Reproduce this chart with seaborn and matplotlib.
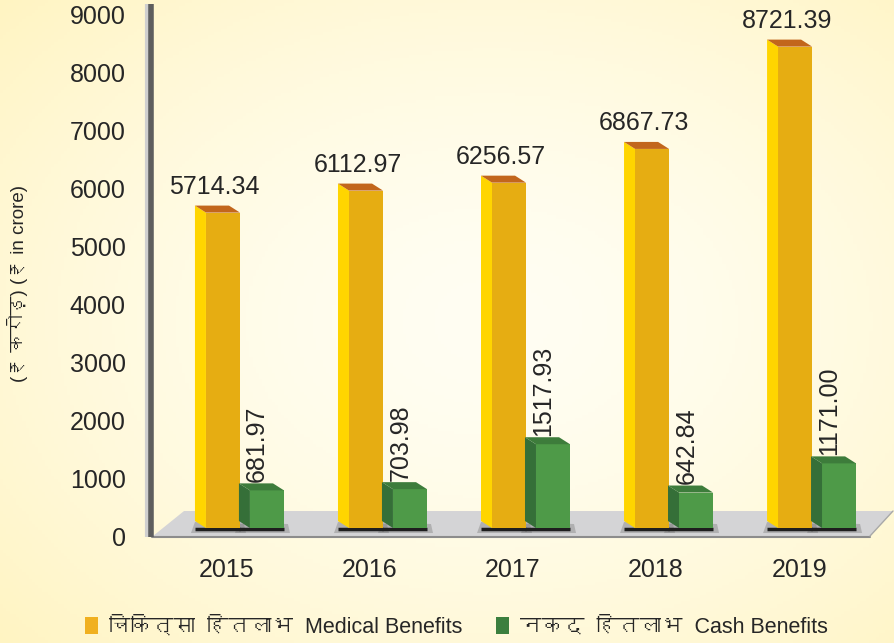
import numpy as np
import pandas as pd
import matplotlib
matplotlib.use("Agg")
import matplotlib.pyplot as plt
import seaborn as sns
from matplotlib import font_manager
from matplotlib.ft2font import FT2Font
from matplotlib.patches import Polygon, Patch
from matplotlib.transforms import ScaledTranslation
from matplotlib.colors import to_rgb

# data
years = ['2015', '2016', '2017', '2018', '2019']
medical = [5714.34, 6112.97, 6256.57, 6867.73, 8721.39]
cash = [681.97, 703.98, 1517.93, 642.84, 1171.00]
series_names = ['चिकित्सा  हितलाभ  Medical Benefits', 'नकद  हितलाभ  Cash Benefits']
ylabel_text = '(₹ करोड़) (₹ in crore)'
yticks = list(range(0, 9001, 1000))

# look for any installed font that has Devanagari glyphs
deva_font = None
for f in font_manager.fontManager.ttflist:
    try:
        if 0x0915 in FT2Font(f.fname).get_charmap():
            deva_font = f.name
            break
    except Exception:
        pass

sns.set_style("white")
families = ['Liberation Sans']
if deva_font:
    families.append(deva_font)
families.append('DejaVu Sans')
plt.rcParams['font.family'] = families

df = pd.DataFrame({
    'year': years * 2,
    'value': medical + cash,
    'type': ['medical'] * len(years) + ['cash'] * len(years),
})

front = ['#E6AD12', '#4E9A48']
side = ['#FFD500', '#356F38']
top = ['#C2661C', '#3D7C3B']
legend_cols = ['#F0B020', '#3B7F3E']

W, H = 895, 643
fig = plt.figure(figsize=(W / 100, H / 100), dpi=100)

# background gradient
bg = fig.add_axes([0, 0, 1, 1], zorder=-5)
yy, xx = np.mgrid[0:1:200j, 0:1:280j]
r = np.clip(np.sqrt(((xx - 0.55) / 0.8) ** 2 + ((yy - 0.5) / 0.8) ** 2), 0, 1)
c0 = np.array(to_rgb('#FFFEF3'))
c1 = np.array(to_rgb('#FFF3BC'))
img = c0 + (c1 - c0) * (r[..., None] ** 1.6)
bg.imshow(img, aspect='auto', extent=[0, 1, 0, 1])
bg.axis('off')

rect = [152 / W, 1 - 540 / H, 728 / W, 535 / H]

# back wall axis carrying the value ticks (3D perspective: slightly larger scale)
wall = fig.add_axes(rect, label='wall')
wall.set_facecolor('none')
wall.set_ylim(-52, 9172)
wall.set_yticks(yticks)
wall.set_xticks([])
wall.tick_params(axis='y', length=0, labelsize=18, pad=19)
for s in wall.spines.values():
    s.set_visible(False)

ax = fig.add_axes(rect)
ax.set_facecolor('none')

sns.barplot(data=df, x='year', y='value', hue='type', palette=front,
            width=0.615, gap=0.226, saturation=1, linewidth=0, legend=False,
            ax=ax, zorder=3)

ax.set_xlim(-0.65, 4.44)
ax.set_ylim(-217, 9475)
ax.set_yticks([])
ax.tick_params(axis='x', length=0, labelsize=18, pad=13)
ax.set_xlabel('')
ax.set_ylabel('')
for s in ax.spines.values():
    s.set_visible(False)
for lbl in ax.get_xticklabels():
    lbl.set_transform(lbl.get_transform() + ScaledTranslation(-0.18, 0, fig.dpi_scale_trans))

# pixel -> data unit conversion
p0 = ax.transData.transform((0, 0))
p1 = ax.transData.transform((1, 1000))
ux = 1 / (p1[0] - p0[0])
uy = 1000 / (p1[1] - p0[1])
dx, dy = -11 * ux, 7 * uy

# floor
xl = ax.get_xlim()
floor = Polygon([(xl[0] + 1 * ux, -8 * uy), (xl[0] + 718 * ux, -8 * uy),
                 (xl[0] + 741 * ux, 17 * uy), (xl[0] + 32 * ux, 17 * uy)],
                closed=True, facecolor='#D4D4D6', edgecolor='none', zorder=1, clip_on=False)
ax.add_patch(floor)
ax.plot([xl[0], xl[0] + 718 * ux], [-9 * uy, -9 * uy], color='#8C8C8C', lw=1.5,
        zorder=1.5, clip_on=False)
ax.plot([xl[0] + 718 * ux, xl[0] + 741 * ux], [-8 * uy, 17 * uy], color='#A8A8A8', lw=1,
        zorder=1.5, clip_on=False)

# left wall edge
ax.plot([xl[0] - 5 * ux] * 2, [-9 * uy, 524 * uy], color='#CFCFCF', lw=3,
        zorder=2, clip_on=False, solid_capstyle='butt')
ax.plot([xl[0] - 1 * ux] * 2, [-9 * uy, 524 * uy], color='#5E5E5E', lw=4,
        zorder=2, clip_on=False, solid_capstyle='butt')

# 3D faces, shadows and labels
for k, cont in enumerate(ax.containers):
    for bar in cont:
        x0 = bar.get_x()
        w = bar.get_width()
        h = bar.get_height()
        x1 = x0 + w
        shadow = Polygon([(x0 + dx - 4 * ux, -5 * uy), (x1 + 6 * ux, -5 * uy),
                          (x1 + 4 * ux, 4 * uy), (x0 + dx, 6 * uy)],
                         closed=True, facecolor='#6E6E6E', edgecolor='none', alpha=0.35,
                         zorder=2)
        ax.add_patch(shadow)
        ax.plot([x0 + dx, x1], [-1 * uy, -1 * uy], color='#1E1E1E', lw=2.5, zorder=2.5,
                solid_capstyle='butt')
        left = Polygon([(x0, 0), (x0, h), (x0 + dx, h + dy), (x0 + dx, dy)],
                       closed=True, facecolor=side[k], edgecolor='none', zorder=3)
        roof = Polygon([(x0, h), (x1, h), (x1 + dx, h + dy), (x0 + dx, h + dy)],
                       closed=True, facecolor=top[k], edgecolor='none', zorder=3)
        ax.add_patch(left)
        ax.add_patch(roof)
        cx = x0 + w / 2
        if k == 0:
            ax.annotate(f'{h:.2f}', (cx, h), xytext=(-6, 10), textcoords='offset points',
                        ha='center', va='bottom', fontsize=18, zorder=5)
        else:
            ax.annotate(f'{h:.2f}', (cx, h), xytext=(-7, 6), textcoords='offset points',
                        ha='center', va='bottom', rotation=90, fontsize=18, zorder=5)

fig.text(18 / W, 1 - 283 / H, ylabel_text, rotation=90, ha='center', va='center',
         fontsize=13.5)

handles = [Patch(facecolor=legend_cols[0], edgecolor='none'),
           Patch(facecolor=legend_cols[1], edgecolor='none')]
fig.legend(handles, series_names, loc='lower center', bbox_to_anchor=(0.51, -0.022),
           ncol=2, frameon=False, fontsize=15.5, handlelength=0.6, handleheight=0.8,
           handletextpad=0.5, columnspacing=1.6)

fig.savefig('out.png', dpi=100)
